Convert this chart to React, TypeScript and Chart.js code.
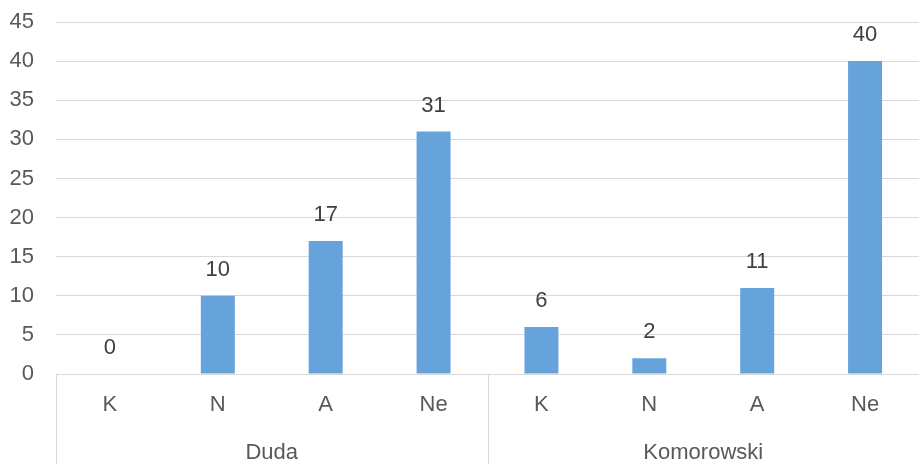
import React, { useEffect, useRef } from "react";
import { Chart, registerables } from "chart.js";

Chart.register(...registerables);

const categories = ["K", "N", "A", "Ne", "K", "N", "A", "Ne"];
const groups = ["Duda", "Komorowski"];
const groupSize = 4;
const values = [0, 10, 17, 31, 6, 2, 11, 40];
const yTicks = [0, 5, 10, 15, 20, 25, 30, 35, 40, 45];

const FONT = "'Liberation Sans', Arial, sans-serif";
const TEXT = "#595959";
const GRID = "#d9d9d9";

export default function App() {
  const ref = useRef<HTMLCanvasElement | null>(null);

  useEffect(() => {
    document.body.style.margin = "0";
    const canvas = ref.current;
    if (!canvas) return;

    const labelsPlugin = {
      id: "customLabels",
      afterDatasetsDraw(chart: any) {
        const ctx = chart.ctx;
        const meta = chart.getDatasetMeta(0);
        ctx.save();
        ctx.font = `22px ${FONT}`;
        ctx.fillStyle = "#404040";
        ctx.textAlign = "center";
        ctx.textBaseline = "middle";
        meta.data.forEach((bar: any, i: number) => {
          ctx.fillText(String(values[i]), bar.x, bar.y - 26);
        });
        ctx.restore();
      },
      afterDraw(chart: any) {
        const ctx = chart.ctx;
        const x = chart.scales.x;
        const top = chart.chartArea.bottom;
        const bottom = chart.height;
        ctx.save();
        ctx.font = `22px ${FONT}`;
        ctx.fillStyle = TEXT;
        ctx.textAlign = "center";
        ctx.textBaseline = "middle";
        categories.forEach((c, i) => {
          ctx.fillText(c, x.getPixelForValue(i), top + 31);
        });
        const step = x.getPixelForValue(1) - x.getPixelForValue(0);
        ctx.strokeStyle = GRID;
        ctx.lineWidth = 1;
        groups.forEach((g, gi) => {
          const first = gi * groupSize;
          const last = first + groupSize - 1;
          const left = x.getPixelForValue(first) - step / 2;
          const right = x.getPixelForValue(last) + step / 2;
          ctx.fillText(g, (left + right) / 2, top + 79);
          ctx.beginPath();
          ctx.moveTo(Math.round(left) + 0.5, top);
          ctx.lineTo(Math.round(left) + 0.5, bottom);
          ctx.stroke();
        });
        ctx.restore();
      },
    };

    const chart = new Chart(canvas, {
      type: "bar",
      data: {
        labels: categories.map((c, i) => `${c}${i}`),
        datasets: [
          {
            data: values,
            backgroundColor: "#65a3da",
            borderWidth: 0,
            barPercentage: 0.315,
            categoryPercentage: 1,
          },
        ],
      },
      options: {
        responsive: false,
        animation: false,
        layout: { padding: { top: 22, right: 0, left: 0, bottom: 0 } },
        plugins: {
          legend: { display: false },
          tooltip: { enabled: false },
          title: { display: false },
        },
        scales: {
          x: {
            grid: { display: false },
            border: { display: false },
            ticks: { display: false },
            afterFit(scale: any) {
              scale.height = 90;
              scale.paddingLeft = 0;
              scale.paddingRight = 0;
            },
          },
          y: {
            min: 0,
            max: 45,
            afterBuildTicks(scale: any) {
              scale.ticks = yTicks.map((v) => ({ value: v }));
            },
            grid: { color: GRID, lineWidth: 1, drawTicks: false },
            border: { display: false },
            ticks: {
              font: { family: FONT, size: 22 },
              color: TEXT,
              padding: 22,
            },
            afterFit(scale: any) {
              scale.width = 56;
              scale.paddingTop = 0;
              scale.paddingBottom = 0;
            },
          },
        },
      },
      plugins: [labelsPlugin],
    });

    return () => chart.destroy();
  }, []);

  return <canvas ref={ref} width={919} height={464} style={{ display: "block" }} />;
}
